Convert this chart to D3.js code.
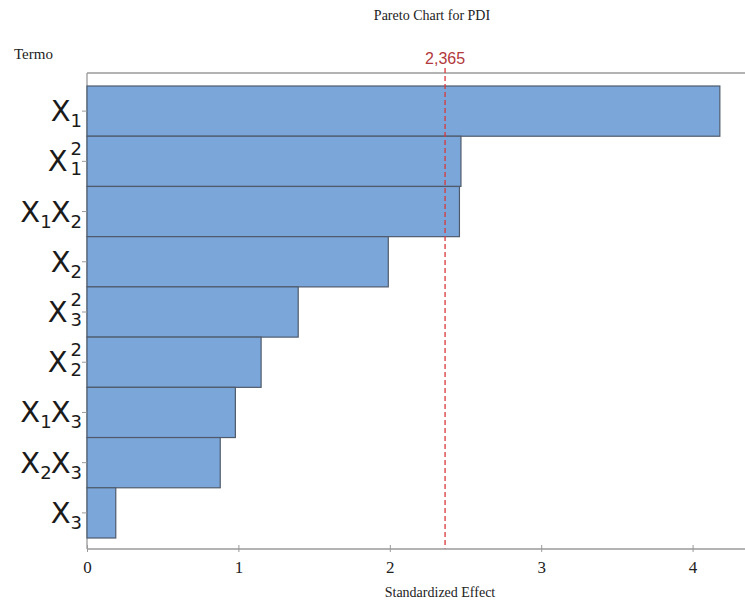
<!DOCTYPE html>
<html>
<head>
<meta charset="utf-8">
<script src="https://cdn.jsdelivr.net/npm/d3@7"></script>
<style>
  body { margin: 0; background: #fff; }
  svg text { fill: #222; }
</style>
</head>
<body>
<svg id="chart" width="745" height="601"></svg>
<script>
// Terms (top to bottom) and their standardized effects
const terms = ["X1", "X1^2", "X1X2", "X2", "X3^2", "X2^2", "X1X3", "X2X3", "X3"];
const effects = [4.18, 2.47, 2.46, 1.99, 1.395, 1.15, 0.98, 0.88, 0.19];
const xTicks = [0, 1, 2, 3, 4];
const refValue = 2.365;
const refLabel = "2,365";

const svg = d3.select("#chart");
const margin = { top: 73, left: 87, right: 0, bottom: 52 };
const width = 745, height = 601;

const x = d3.scaleLinear().domain([0, 4.35]).range([margin.left, margin.left + 4.35 * 151.4]);
const y = d3.scaleBand().domain(terms).range([86, 538]).padding(0);

const gray = "#9a9a9a";
const serif = "'Liberation Serif', 'DejaVu Serif', serif";

// title
svg.append("text").attr("x", 432).attr("y", 20).attr("text-anchor", "middle")
  .style("font-family", serif).style("font-size", "14px").text("Pareto Chart for PDI");
svg.append("text").attr("x", 14).attr("y", 59)
  .style("font-family", serif).style("font-size", "15px").text("Termo");

// frame lines
svg.append("line").attr("x1", margin.left).attr("x2", width).attr("y1", 73).attr("y2", 73)
  .attr("stroke", gray).attr("stroke-width", 1.3);
svg.append("line").attr("x1", margin.left).attr("x2", margin.left).attr("y1", 73).attr("y2", 549)
  .attr("stroke", gray).attr("stroke-width", 1.3);

// bars
svg.selectAll("rect.bar").data(terms).join("rect")
  .attr("class", "bar")
  .attr("x", x(0))
  .attr("y", d => y(d))
  .attr("width", (d, i) => x(effects[i]) - x(0))
  .attr("height", y.bandwidth())
  .attr("fill", "#7ba6d9")
  .attr("stroke", "#4f5b6c")
  .attr("stroke-width", 1.2);

// reference line
svg.append("line")
  .attr("x1", x(refValue)).attr("x2", x(refValue))
  .attr("y1", 68).attr("y2", 549)
  .attr("stroke", "#d8383c").attr("stroke-width", 1.3)
  .attr("stroke-dasharray", "5,3");
svg.append("text").attr("x", x(refValue)).attr("y", 64).attr("text-anchor", "middle")
  .style("font-family", "'Liberation Sans Narrow', 'Liberation Sans', sans-serif")
  .style("font-size", "16px").style("fill", "#b2393c").text(refLabel);

// x axis
const xAxis = svg.append("g").attr("transform", "translate(0,549)")
  .call(d3.axisBottom(x).tickValues(xTicks).tickSize(4).tickFormat(d3.format("d")));
xAxis.select(".domain").attr("stroke", gray).attr("stroke-width", 1.3).attr("d", `M${margin.left},0H${width}`);
xAxis.selectAll(".tick line").attr("stroke", gray).attr("y1", -4).attr("y2", 3);
xAxis.selectAll(".tick text").attr("y", 12)
  .style("font-family", serif).style("font-size", "17px").style("fill", "#222");

svg.append("text").attr("x", 440).attr("y", 597).attr("text-anchor", "middle")
  .style("font-family", serif).style("font-size", "14px").text("Standardized Effect");

// y axis ticks
svg.selectAll("line.ytick").data(terms).join("line")
  .attr("class", "ytick")
  .attr("x1", margin.left - 5).attr("x2", margin.left)
  .attr("y1", d => y(d) + y.bandwidth() / 2).attr("y2", d => y(d) + y.bandwidth() / 2)
  .attr("stroke", gray);

// y labels: X with subscripts, squared terms get a stacked superscript
const sans = "'DejaVu Sans', 'Noto Sans', sans-serif";
terms.forEach(t => {
  const cy = y(t) + y.bandwidth() / 2;
  const g = svg.append("g");
  const sq = t.endsWith("^2");
  const parts = (sq ? t.slice(0, -2) : t).match(/X\d/g);
  let cx = 0;
  parts.forEach(p => {
    const big = g.append("text").attr("x", cx).attr("y", 10)
      .style("font-family", sans).style("font-size", "29px")
      .style("fill", "#1a1a1a").text("X");
    cx += big.node().getComputedTextLength() + (sq ? 3 : 0);
    const sub = g.append("text").attr("x", cx).attr("y", sq ? 14 : 16)
      .style("font-family", sans).style("font-size", "18px")
      .style("fill", "#1a1a1a").text(p[1]);
    if (sq) {
      g.append("text").attr("x", cx).attr("y", -6)
        .style("font-family", sans).style("font-size", "18px")
        .style("fill", "#1a1a1a").text("2");
    }
    cx += sub.node().getComputedTextLength() - 1;
  });
  g.attr("transform", `translate(${margin.left - 6 - cx},${cy})`);
});
</script>
</body>
</html>
